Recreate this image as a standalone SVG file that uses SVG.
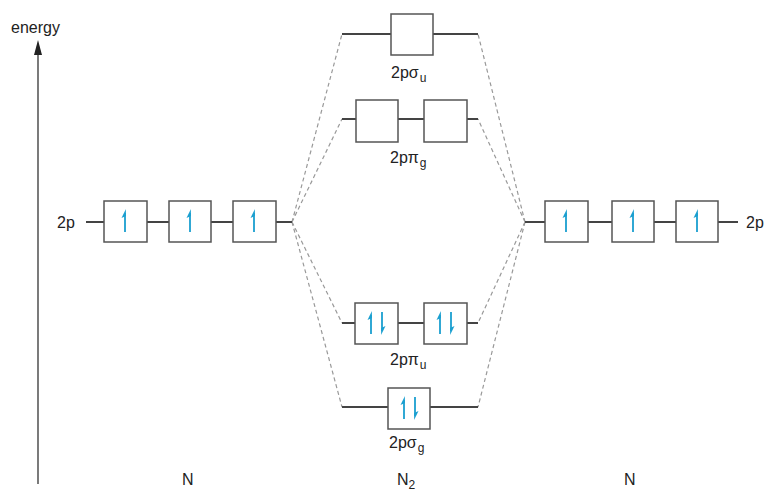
<svg xmlns="http://www.w3.org/2000/svg" width="768" height="491" viewBox="0 0 768 491">
<defs>
<style>
text{font-family:"Liberation Sans",Arial,sans-serif;fill:#222;font-size:16px}
.lvl{stroke:#444;stroke-width:2;fill:none}
.box{fill:#fff;stroke:#555;stroke-width:1.5}
.dash{stroke:#999;stroke-width:1.2;stroke-dasharray:4,3;fill:none}
.e{stroke:#1a9fd0;stroke-width:1.8;fill:none}
.eh{fill:#1a9fd0}
.sub{font-size:12px}
</style>
<marker id="arr" viewBox="0 0 8 14" refX="4" refY="0" markerWidth="8" markerHeight="14" orient="auto-start-reverse" markerUnits="userSpaceOnUse">
<path d="M0,14 L4,0 L8,14 Z" fill="#222"/>
</marker>
<g id="up"><line class="e" x1="0" y1="11" x2="0" y2="-8"/><path class="eh" d="M0.9,-12 L-3.5,-3 L0.9,-5 Z"/></g>
<g id="down"><line class="e" x1="0" y1="-11" x2="0" y2="8"/><path class="eh" d="M-0.9,12 L3.5,3 L-0.9,5 Z"/></g>
</defs>
<rect width="768" height="491" fill="#fff"/>

<g id="axis">
<line x1="38" y1="484" x2="38" y2="54" stroke="#222" stroke-width="1.2"/>
<path d="M34,55 L38,40 L42,55 Z" fill="#222"/>
<text x="11" y="33" font-size="18">energy</text>
</g>

<g id="connectors">
<path class="dash" d="M292,222 L342,34 M292,222 L342,119 M292,222 L342,323 M292,222 L342,407"/>
<path class="dash" d="M525,222 L478,34 M525,222 L478,119 M525,222 L478,323 M525,222 L478,407"/>
</g>

<g id="N-left-2p">
<text x="57" y="228">2p</text>
<line class="lvl" x1="86" y1="222" x2="292" y2="222"/>
<rect class="box" x="104" y="201" width="43" height="41"/>
<rect class="box" x="169" y="201" width="42" height="41"/>
<rect class="box" x="233" y="201" width="43" height="41"/>
<use href="#up" x="125" y="221"/>
<use href="#up" x="190" y="221"/>
<use href="#up" x="254" y="221"/>
</g>

<g id="N-right-2p">
<line class="lvl" x1="525" y1="222" x2="738" y2="222"/>
<rect class="box" x="545" y="201" width="43" height="41"/>
<rect class="box" x="612" y="201" width="42" height="41"/>
<rect class="box" x="676" y="201" width="42" height="41"/>
<use href="#up" x="566" y="221"/>
<use href="#up" x="633" y="221"/>
<use href="#up" x="697" y="221"/>
<text x="746" y="228">2p</text>
</g>

<g id="sigma-u">
<line class="lvl" x1="342" y1="34" x2="478" y2="34"/>
<rect class="box" x="391" y="14" width="42" height="41"/>
<text x="391" y="78">2pσ<tspan class="sub" dx="1" dy="4">u</tspan></text>
</g>

<g id="pi-g">
<line class="lvl" x1="342" y1="119" x2="478" y2="119"/>
<rect class="box" x="356" y="100" width="42" height="42"/>
<rect class="box" x="424" y="100" width="43" height="42"/>
<text x="390" y="163">2pπ<tspan class="sub" dx="1" dy="4">g</tspan></text>
</g>

<g id="pi-u">
<line class="lvl" x1="342" y1="323" x2="478" y2="323"/>
<rect class="box" x="355" y="303" width="43" height="41"/>
<rect class="box" x="424" y="303" width="43" height="41"/>
<use href="#up" x="371" y="323"/>
<use href="#down" x="382" y="323"/>
<use href="#up" x="440" y="323"/>
<use href="#down" x="451" y="323"/>
<text x="390" y="365">2pπ<tspan class="sub" dx="1" dy="4">u</tspan></text>
</g>

<g id="sigma-g">
<line class="lvl" x1="342" y1="407" x2="478" y2="407"/>
<rect class="box" x="388" y="388" width="42" height="41"/>
<use href="#up" x="404" y="408"/>
<use href="#down" x="415" y="408"/>
<text x="389" y="448">2pσ<tspan class="sub" dx="1" dy="4">g</tspan></text>
</g>

<g id="labels">
<text x="182" y="485">N</text>
<text x="397" y="485">N<tspan class="sub" dy="4">2</tspan></text>
<text x="624" y="485">N</text>
</g>
</svg>
